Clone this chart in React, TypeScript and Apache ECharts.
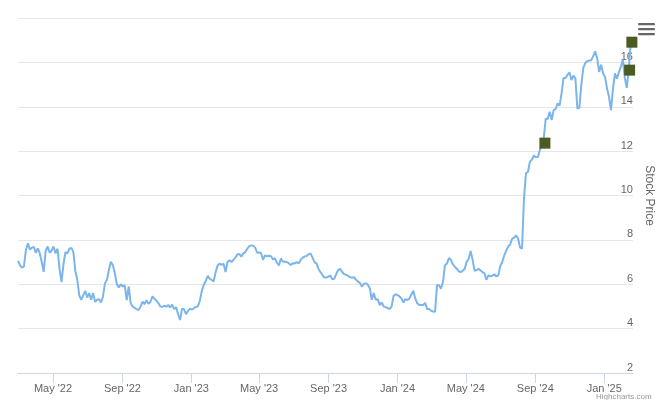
import React, { useEffect, useRef } from "react";
import * as echarts from "echarts";

// Closing prices sampled twice a week (every 3.5 days), first sample 2022-02-28
const firstSample = "2022-02-28";
const sampleStepDays = 3.5;
const prices = [
  7.06, 6.86, 6.75, 6.8, 7.54, 7.85, 7.57, 7.65, 7.68, 7.42,
  7.62, 7.4, 7.0, 6.56, 7.5, 7.7, 7.42, 7.52, 7.7, 7.39,
  7.6, 6.7, 6.1, 6.9, 7.45, 7.39, 7.6, 7.64, 7.46, 6.6,
  6.2, 5.5, 5.3, 5.5, 5.7, 5.4, 5.6, 5.3, 5.6, 5.21,
  5.3, 5.32, 5.18, 5.45, 6.04, 6.2, 6.65, 7.01, 6.86, 6.5,
  6.0, 5.85, 6.0, 5.9, 5.95, 5.29, 5.9, 5.15, 4.99, 4.93,
  4.88, 4.84, 4.99, 5.22, 5.1, 5.28, 5.12, 5.2, 5.45, 5.35,
  5.26, 5.15, 5.0, 4.98, 5.03, 4.99, 5.07, 4.95, 5.08, 4.88,
  4.96, 4.65, 4.39, 4.9, 4.87, 4.65, 4.8, 4.9, 4.86, 4.92,
  4.98, 5.0, 5.25, 5.7, 5.98, 6.15, 6.38, 6.25, 6.19, 6.13,
  6.55, 6.85, 6.93, 6.87, 6.93, 6.55, 7.01, 7.08, 7.0, 7.1,
  7.2, 7.35, 7.36, 7.25, 7.39, 7.45, 7.6, 7.72, 7.75, 7.74,
  7.65, 7.42, 7.43, 7.4, 7.1, 7.3, 7.26, 7.28, 7.26, 7.12,
  7.16, 6.97, 6.85, 7.16, 7.01, 7.02, 7.0, 6.95, 6.86, 6.95,
  6.94, 7.0, 6.94, 7.1, 7.2, 7.25, 7.27, 7.35, 7.39, 7.2,
  7.0, 6.94, 6.7, 6.55, 6.42, 6.3, 6.3, 6.34, 6.4, 6.22,
  6.25, 6.46, 6.64, 6.7, 6.55, 6.46, 6.42, 6.38, 6.32, 6.29,
  6.32, 6.2, 6.12, 6.06, 5.9, 6.02, 6.04, 5.98, 5.82, 5.3,
  5.6, 5.3, 5.32, 5.06, 5.18, 5.0, 4.97, 4.93, 4.88, 4.99,
  5.47, 5.55, 5.51, 5.45, 5.36, 5.18, 5.33, 5.29, 5.35, 5.54,
  5.71, 5.35, 5.14, 5.06, 5.06, 5.06, 5.16, 4.88, 4.88, 4.8,
  4.77, 4.76, 5.97, 5.96, 5.8, 6.1, 6.86, 6.93, 7.18, 7.1,
  6.9, 6.79, 6.7, 6.58, 6.55, 6.61, 6.7, 7.01, 7.15, 7.5,
  7.1, 6.6, 6.64, 6.7, 6.62, 6.55, 6.49, 6.2, 6.4, 6.36,
  6.38, 6.45, 6.35, 6.41, 6.82, 7.0, 7.3, 7.52, 7.69, 7.8,
  8.05, 8.1, 8.2, 8.06, 7.65, 7.6, 9.9, 11.0, 11.07, 11.52,
  11.62, 11.8, 11.72, 11.73, 12.05, 12.25, 12.6, 13.47, 13.45, 13.77,
  13.4, 13.85, 13.9, 14.15, 14.05, 14.6, 15.3, 15.3, 15.44, 15.55,
  15.2, 15.4, 15.27, 13.92, 13.95, 15.0, 15.75, 15.97, 16.05, 16.08,
  16.1, 16.27, 16.5, 16.2, 15.57, 15.9, 15.5, 15.35, 14.82, 14.45,
  13.85, 14.8, 15.5, 15.27, 15.55, 15.8, 16.12, 15.3, 14.85, 15.7,
  16.87, 16.95,
];

const markerDates = ["2024-09-18", "2025-02-15", "2025-02-19"];
const markerPrices = [12.36, 15.65, 16.91];

const tickDates = [
  "2022-05-01", "2022-09-01", "2023-01-01", "2023-05-01", "2023-09-01",
  "2024-01-01", "2024-05-01", "2024-09-01", "2025-01-01",
];
const axisStart = "2022-02-28";
const axisEnd = "2025-02-21";
const yMin = 2;
const yMax = 18;
const yStep = 2;
const yTitle = "Stock Price";
const credit = "Highcharts.com";
const monthNames = ["Jan", "Feb", "Mar", "Apr", "May", "Jun", "Jul", "Aug", "Sep", "Oct", "Nov", "Dec"];

const toTs = (s: string) => {
  const [y, m, d] = s.split("-").map(Number);
  return new Date(y, m - 1, d).getTime();
};

export default function App() {
  const ref = useRef<HTMLDivElement>(null);
  useEffect(() => {
    if (!ref.current) return;
    const chart = echarts.init(ref.current, undefined, { renderer: "svg" });
    const start = toTs(firstSample);
    const lineData: [number, number][] = prices.map((v, i) => [start + i * sampleStepDays * 86400000, v]);
    const markers = markerDates.map((d, i) => [toTs(d), markerPrices[i]]);
    const ticks = tickDates.map(toTs);
    const font = "Arial, 'Liberation Sans', Helvetica, sans-serif";

    chart.setOption({
      animation: false,
      textStyle: { fontFamily: font },
      grid: { left: 18, right: 27, top: 18, bottom: 27, containLabel: false, outerBoundsMode: "none" },
      xAxis: {
        type: "value",
        min: toTs(axisStart),
        max: toTs(axisEnd),
        axisLine: { show: true, lineStyle: { color: "#ccd6eb", width: 1 } },
        axisTick: { show: true, customValues: ticks, length: 10, lineStyle: { color: "#ccd6eb" } },
        axisLabel: {
          customValues: ticks,
          color: "#666666",
          fontSize: 11,
          lineHeight: 11,
          fontFamily: font,
          margin: 9,
          formatter: (val: number) => {
            const d = new Date(val);
            return monthNames[d.getMonth()] + " '" + String(d.getFullYear()).slice(2);
          },
        },
        splitLine: { show: false },
      },
      yAxis: {
        type: "value",
        position: "right",
        min: yMin,
        max: yMax,
        interval: yStep,
        name: yTitle,
        nameLocation: "middle",
        nameRotate: -90,
        nameGap: 10,
        nameTextStyle: { color: "#666666", fontSize: 12, fontFamily: font },
        axisLine: { show: false },
        axisTick: { show: false },
        axisLabel: {
          inside: true,
          margin: 0,
          color: "#666666",
          fontSize: 11,
          fontFamily: font,
          verticalAlign: "bottom",
          showMaxLabel: false,
          padding: [0, 0, 1, 0],
        },
        splitLine: { show: true, lineStyle: { color: "#e6e6e6", width: 1 } },
      },
      series: [
        {
          type: "line",
          data: lineData,
          showSymbol: false,
          symbol: "none",
          lineStyle: { color: "#7cb5ec", width: 2 },
          z: 2,
        },
        {
          type: "scatter",
          data: markers,
          symbol: "rect",
          symbolSize: 11,
          itemStyle: { color: "#4b5b23", opacity: 1 },
          z: 3,
        },
      ],
      graphic: [
        { type: "rect", shape: { x: 638, y: 23, width: 17, height: 2.2, r: 1 }, style: { fill: "#666666" } },
        { type: "rect", shape: { x: 638, y: 28, width: 17, height: 2.2, r: 1 }, style: { fill: "#666666" } },
        { type: "rect", shape: { x: 638, y: 33, width: 17, height: 2.2, r: 1 }, style: { fill: "#666666" } },
        {
          type: "text",
          left: 596,
          top: 392.5,
          style: { text: credit, fill: "#999999", fontSize: 8, lineHeight: 6, fontFamily: font },
        },
      ],
    });
    return () => chart.dispose();
  }, []);
  return <div ref={ref} style={{ width: 660, height: 400, position: "fixed", left: 0, top: 0 }} />;
}
